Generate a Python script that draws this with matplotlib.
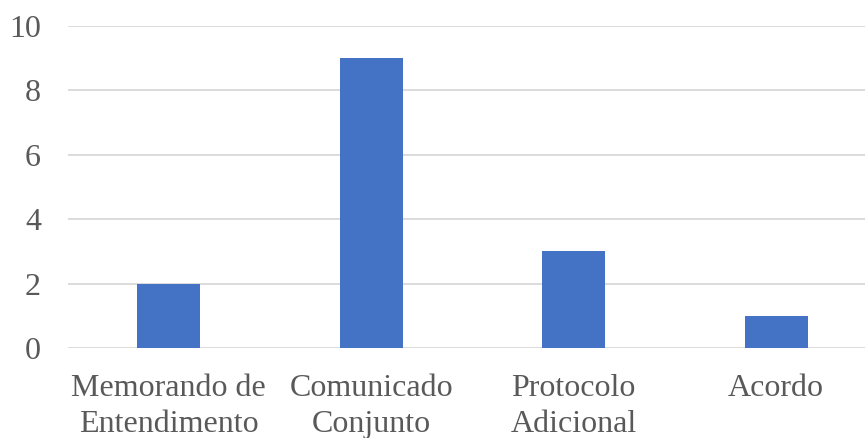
import matplotlib.pyplot as plt

categories = ["Memorando de\nEntendimento", "Comunicado\nConjunto", "Protocolo\nAdicional", "Acordo"]
values = [2, 9, 3, 1]
yticks = [0, 2, 4, 6, 8, 10]

W, H = 865, 438
fig = plt.figure(figsize=(W / 100, H / 100), dpi=100)
# axes box in pixels: left 67.5, bottom-of-plot y=348, top y=26
left, bottom, top = 67.5, 348, 26
cat_w = 202.5
ax = fig.add_axes([left / W, (H - bottom) / H, (W - left) / W, (bottom - top) / H])

x = range(len(categories))
ax.bar(x, values, width=0.31, color="#4472C4", zorder=3)
ax.set_xlim(-0.5, (W - left) / cat_w - 0.5)
ax.set_ylim(0, 10)
ax.set_yticks(yticks)
ax.set_xticks(list(x))
ax.set_xticklabels(categories, linespacing=1.32)

for s in ax.spines.values():
    s.set_visible(False)
ax.grid(axis="y", color="#d9d9d9", linewidth=1.3, zorder=0)
ax.tick_params(axis="both", length=0, labelsize=23, labelcolor="#595959")
ax.tick_params(axis="y", pad=19)
ax.tick_params(axis="x", pad=19)
for lab in ax.get_xticklabels() + ax.get_yticklabels():
    lab.set_fontfamily("Liberation Serif")

fig.savefig("out.png", dpi=100)
